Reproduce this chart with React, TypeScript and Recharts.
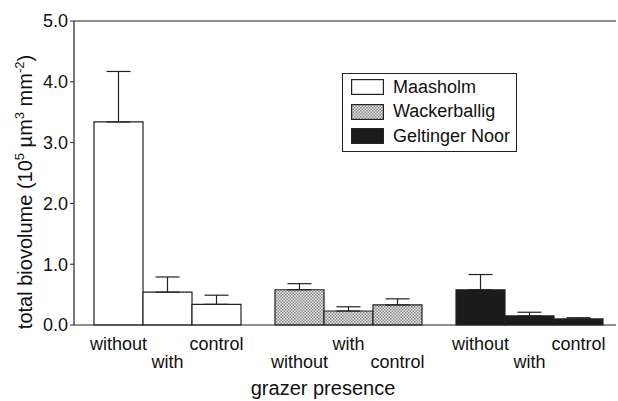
import React from "react";
import {
  BarChart,
  Bar,
  XAxis,
  YAxis,
  ErrorBar,
  Cell,
  Legend,
  ReferenceLine,
} from "recharts";

const sites = ["Maasholm", "Wackerballig", "Geltinger Noor"];
const treatments = ["without", "with", "control"];
const yTicks = [0, 1, 2, 3, 4, 5];

// means, one list per site (without, with, control)
const maasholm = [3.34, 0.54, 0.34];
const wackerballig = [0.58, 0.23, 0.33];
const geltinger = [0.58, 0.15, 0.1];

// upper standard errors
const maasholmErr = [0.83, 0.25, 0.15];
const wackerballigErr = [0.1, 0.07, 0.1];
const geltingerErr = [0.25, 0.06, 0.02];

const means = [maasholm, wackerballig, geltinger];
const errs = [maasholmErr, wackerballigErr, geltingerErr];

const data = sites.map((site, s) => {
  const row: any = { site };
  treatments.forEach((t, i) => {
    row[t] = means[s][i];
    row[t + "Err"] = [0, errs[s][i]];
  });
  return row;
});

const FONT = "'Liberation Sans', Arial, Helvetica, sans-serif";
const BAR = 49;
const PLOT_BOTTOM = 325;
const fills = ["#ffffff", "url(#stipple)", "#1b1b1b"];

function GroupTick(props: any) {
  const { x, payload } = props;
  const g = payload.index;
  return (
    <g>
      {treatments.map((t, i) => {
        const lower = (g * 3 + i) % 2 === 1;
        return (
          <text
            key={t}
            x={x + (i - 1) * BAR}
            y={lower ? PLOT_BOTTOM + 43 : PLOT_BOTTOM + 25}
            textAnchor="middle"
            fontFamily={FONT}
            fontSize={18}
            fill="#111"
          >
            {t}
          </text>
        );
      })}
    </g>
  );
}

function LegendBox() {
  return (
    <div
      style={{
        boxSizing: "border-box",
        border: "1.2px solid #222",
        background: "#fff",
        padding: "1px 0 2px 8px",
        fontFamily: FONT,
        fontSize: 18,
        color: "#111",
        width: 175,
        whiteSpace: "nowrap",
      }}
    >
      {sites.map((s, i) => (
        <div key={s} style={{ display: "flex", alignItems: "center", height: 24.5 }}>
          <svg width={33} height={16} style={{ marginRight: 9, flex: "none" }}>
            <rect x={0.6} y={0.6} width={31.8} height={14.8} fill={fills[i]} stroke="#222" strokeWidth={1.2} />
          </svg>
          <span>{s}</span>
        </div>
      ))}
    </div>
  );
}

export default function App() {
  return (
    <div style={{ position: "absolute", left: 0, top: 0, width: 618, height: 401, background: "#fff" }}>
      <svg width={0} height={0} style={{ position: "absolute" }}>
        <defs>
          <pattern id="stipple" width={3} height={3} patternUnits="userSpaceOnUse">
            <rect width={3} height={3} fill="#e4e4e4" />
            <rect x={0} y={0} width={1.5} height={1.5} fill="#8c8c8c" />
            <rect x={1.5} y={1.5} width={1.5} height={1.5} fill="#8c8c8c" />
          </pattern>
        </defs>
      </svg>
      <BarChart
        width={618}
        height={401}
        data={data}
        margin={{ top: 21, right: 2, bottom: 0, left: 0 }}
        barGap={0}
        barSize={BAR}
      >
        <XAxis
          dataKey="site"
          height={76}
          tickLine={false}
          axisLine={{ stroke: "#222", strokeWidth: 1.2 }}
          padding={{ left: 3, right: -4 }}
          tick={<GroupTick />}
          interval={0}
          label={() => (
            <text x={323} y={395} textAnchor="middle" fontFamily={FONT} fontSize={20} fill="#111">
              grazer presence
            </text>
          )}
        />
        <YAxis
          width={74}
          domain={[0, 5]}
          ticks={yTicks}
          tickFormatter={(v: number) => v.toFixed(1)}
          tickSize={4}
          tickMargin={2}
          tickLine={{ stroke: "#222" }}
          axisLine={{ stroke: "#222", strokeWidth: 1.2 }}
          tick={{ fill: "#111", fontFamily: FONT, fontSize: 18 }}
          label={() => (
            <text
              x={32}
              y={192}
              transform="rotate(-90, 32, 192)"
              textAnchor="middle"
              fontFamily={FONT}
              fontSize={20}
              fill="#111"
            >
              total biovolume (10
              <tspan dy={-8} fontSize={13}>5</tspan>
              <tspan dy={8}> µm</tspan>
              <tspan dy={-8} fontSize={13}>3</tspan>
              <tspan dy={8}> mm</tspan>
              <tspan dy={-8} fontSize={13}>-2</tspan>
              <tspan dy={8}>)</tspan>
            </text>
          )}
        />
        <ReferenceLine y={5} stroke="#222" strokeWidth={1.2} />
        {treatments.map((t) => (
          <Bar key={t} dataKey={t} stroke="#222" strokeWidth={1.2} isAnimationActive={false}>
            {data.map((d, s) => (
              <Cell key={s} fill={fills[s]} />
            ))}
            <ErrorBar dataKey={t + "Err"} width={12} stroke="#222" strokeWidth={1.2} isAnimationActive={false} />
          </Bar>
        ))}
        <Legend
          layout="vertical"
          align="center"
          verticalAlign="middle"
          wrapperStyle={{ position: "absolute", left: 342, top: 73, width: "auto", height: "auto" }}
          content={() => <LegendBox />}
        />
      </BarChart>
    </div>
  );
}
